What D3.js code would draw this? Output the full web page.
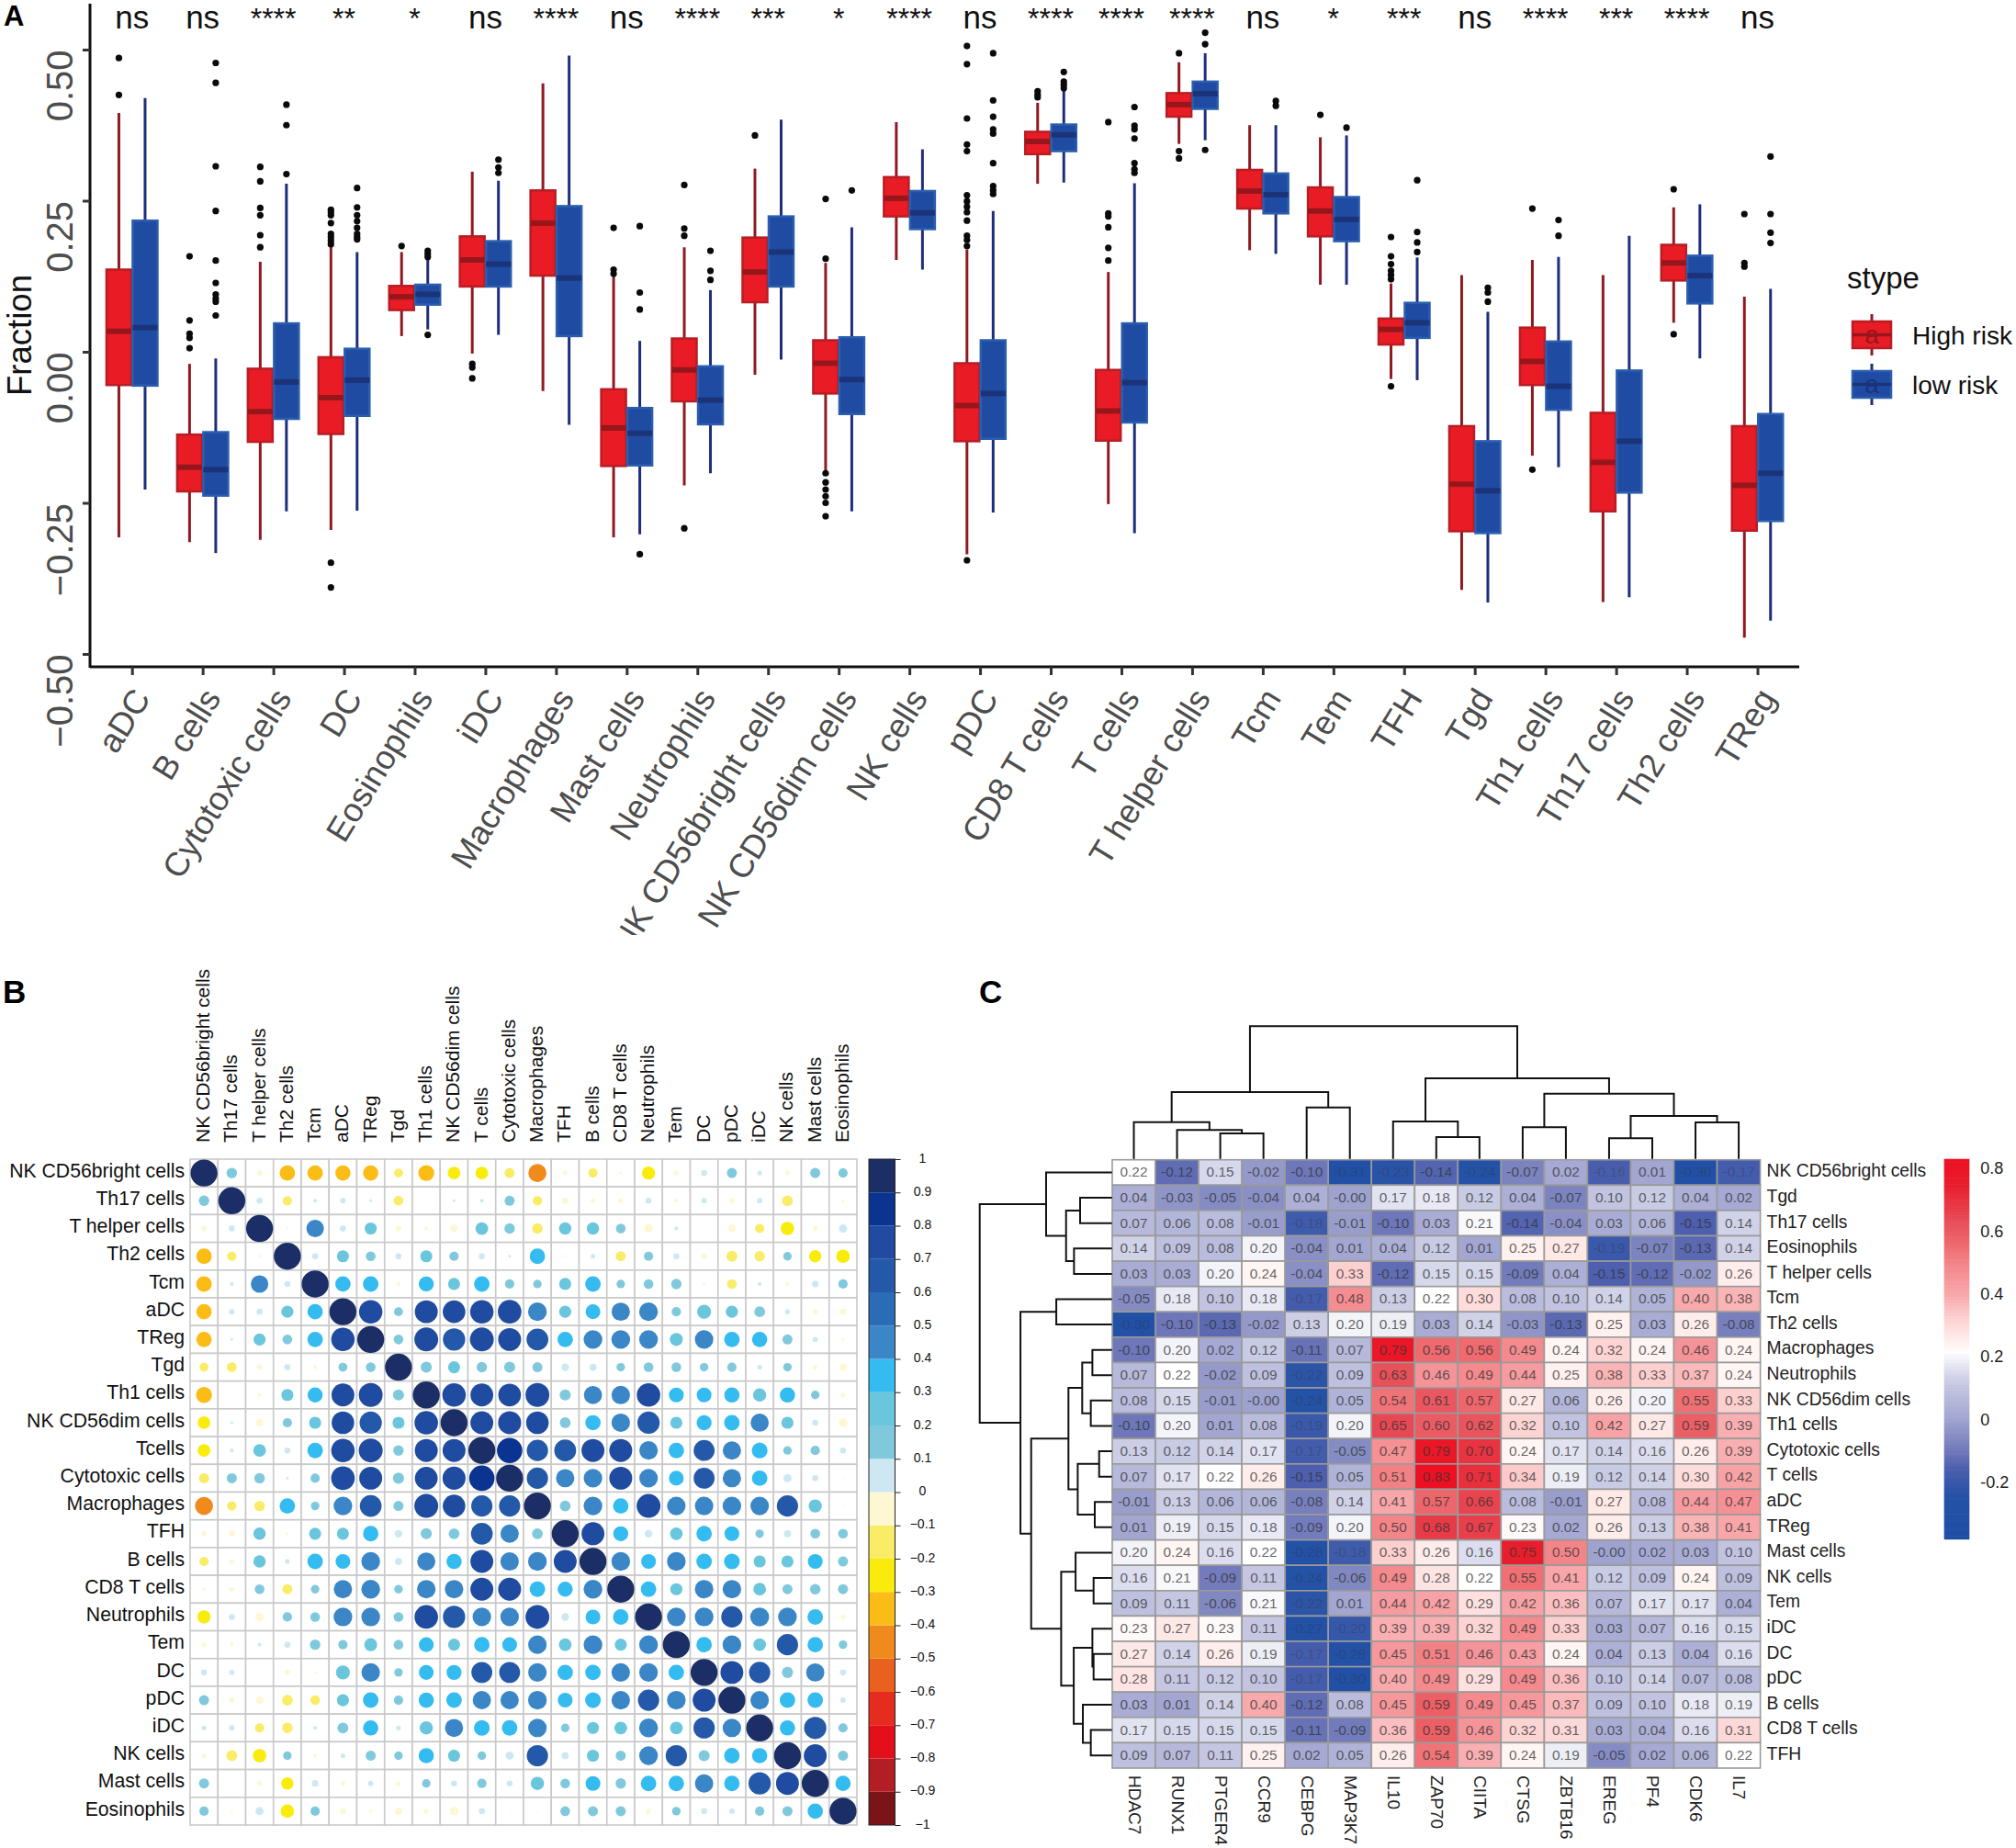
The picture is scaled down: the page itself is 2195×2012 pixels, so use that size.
<!DOCTYPE html>
<html>
<head>
<meta charset="utf-8">
<script src="https://cdn.jsdelivr.net/npm/d3@7"></script>
<style>
  html, body { margin: 0; padding: 0; background: #fff; }
  text { font-family: "Liberation Sans", Arial, sans-serif; }
</style>
</head>
<body>
<div id="chart"></div>
<script>
// panel A: immune cell fractions by risk group
const boxCats = ['aDC','B cells','Cytotoxic cells','DC','Eosinophils','iDC','Macrophages','Mast cells','Neutrophils','NK CD56bright cells','NK CD56dim cells','NK cells','pDC','CD8 T cells','T cells','T helper cells','Tcm','Tem','TFH','Tgd','Th1 cells','Th17 cells','Th2 cells','TReg'];
const sigLabels = ['ns','ns','****','**','*','ns','****','ns','****','***','*','****','ns','****','****','****','ns','*','***','ns','****','***','****','ns'];
// low whisker, q1, median, q3, high whisker
const boxHigh = [
  [-.307,-.055,.034,.136,.395],[-.315,-.231,-.191,-.137,-.020],[-.311,-.149,-.099,-.028,.149],[-.295,-.136,-.076,-.009,.174],
  [.026,.069,.091,.109,.165],[-.003,.108,.152,.191,.298],[-.065,.126,.213,.267,.444],[-.307,-.189,-.126,-.062,.131],
  [-.221,-.082,-.030,.022,.173],[-.038,.082,.132,.189,.303],[-.200,-.069,-.019,.019,.147],[.152,.224,.254,.289,.380],
  [-.335,-.148,-.089,-.019,.169],[.278,.327,.348,.364,.412],[-.252,-.147,-.098,-.030,.132],[.344,.389,.409,.428,.479],
  [.168,.237,.266,.301,.375],[.111,.191,.233,.272,.355],[-.045,.012,.037,.055,.113],[-.394,-.297,-.219,-.123,.127],
  [-.172,-.055,-.016,.040,.152],[-.414,-.264,-.183,-.101,.127],[.048,.118,.147,.177,.239],[-.473,-.296,-.221,-.123,.091]
];
const boxLow = [
  [-.228,-.056,.040,.217,.420],[-.333,-.238,-.195,-.133,-.011],[-.264,-.111,-.050,.047,.278],[-.263,-.106,-.047,.005,.165],
  [.037,.078,.095,.111,.152],[.028,.108,.145,.183,.283],[-.121,.026,.122,.241,.490],[-.302,-.188,-.135,-.093,.018],
  [-.201,-.120,-.080,-.024,.102],[-.013,.108,.165,.224,.384],[-.264,-.103,-.046,.024,.206],[.136,.203,.230,.266,.335],
  [-.266,-.144,-.069,.019,.233],[.280,.332,.359,.376,.432],[-.300,-.117,-.051,.047,.279],[.350,.402,.427,.447,.494],
  [.162,.229,.260,.295,.375],[.111,.183,.219,.256,.358],[-.047,.023,.048,.081,.156],[-.415,-.300,-.230,-.148,.066],
  [-.191,-.096,-.057,.017,.157],[-.406,-.233,-.148,-.031,.192],[-.011,.080,.126,.159,.244],[-.445,-.280,-.201,-.103,.104]
];
const outHigh = [
  [.486,.425],[.158,.052,.030,.023,.006],[.306,.282,.238,.226,.193,.173],[-.349,-.390,.235,.231,.226,.213,.195,.190,.184,.178],
  [.175],[-.020,-.026,-.044],[],[.205,.136,.129],
  [.276,.204,.192,-.292],[.358],[.253,.154,-.201,-.216,-.228,-.239,-.250,-.272],[],
  [-.345,.506,.476,.386,.343,.332,.259,.249,.240,.231,.217,.192,.185,.175],[.431,.425,.421],[.380,.229,.224,.206,.172,.151],[.494,.332,.320],
  [],[.392],[.190,.158,.145,.134,.127,.120,-.057],[],
  [.237,-.195],[],[.269,.029],[.228,.147,.141]
];
const outLow = [
  [],[.478,.445,.307,.233,.151,.114,.095,.088,.083,.060],[.409,.375,.294],[.271,.239,.226,.216,.205,.195,.190,.186],
  [.167,.162,.157,.028],[.318,.305,.296],[],[.208,.098,.070,-.335],
  [.167,.134,.119],[],[.267],[],
  [.494,.416,.389,.368,.361,.312,.274,.267,.261],[.463,.447,.442,.436],[.405,.374,.368,.353,.312,.302,.296],[.528,.509,.334],
  [.415,.407],[.371],[.284,.198,.181,.165],[.106,.098,.083],
  [.218,.192],[],[],[.323,.228,.197,.180]
];
const riskGroups = ['High risk','low risk'];

// panel B: correlation between cell types (upper triangle, row by row)
const corrCols = ['NK CD56bright cells','Th17 cells','T helper cells','Th2 cells','Tcm','aDC','TReg','Tgd','Th1 cells','NK CD56dim cells','T cells','Cytotoxic cells','Macrophages','TFH','B cells','CD8 T cells','Neutrophils','Tem','DC','pDC','iDC','NK cells','Mast cells','Eosinophils'];
const corrRows = ['NK CD56bright cells','Th17 cells','T helper cells','Th2 cells','Tcm','aDC','TReg','Tgd','Th1 cells','NK CD56dim cells','Tcells','Cytotoxic cells','Macrophages','TFH','B cells','CD8 T cells','Neutrophils','Tem','DC','pDC','iDC','NK cells','Mast cells','Eosinophils'];
const corrUpper = [
  [.15,-.04,-.33,-.33,-.32,-.32,-.11,-.35,-.22,-.22,-.14,-.45,-.03,-.12,-.01,-.24,-.03,.05,.14,.03,-.03,.14,.12],
  [.05,-.12,.02,.04,.01,-.13,-.002,.01,.02,.14,-.12,-.05,-.03,-.03,.05,-.02,.04,-.04,.04,-.16,-.003,-.01],
  [-.01,.42,.05,.2,-.04,-.02,-.08,.22,.15,-.15,.21,.21,.13,-.1,.02,-.002,-.08,-.12,-.25,-.04,.09],
  [.05,.2,.13,.05,.2,.12,.05,.01,.33,-.01,.03,-.14,.12,.05,-.04,-.16,-.15,.1,-.21,-.25],
  [.32,.33,-.02,.31,.2,.33,.12,.1,.2,.33,.1,.13,.15,-.01,-.13,.02,-.02,.06,.12],
  [.75,.11,.72,.7,.75,.76,.48,.2,.3,.46,.48,.12,.27,.2,.16,.03,-.03,-.05],
  [.13,.78,.68,.78,.72,.65,.33,.48,.48,.48,.23,.47,.33,.32,.14,.04,-.01],
  [.17,.2,.15,.17,.14,.08,.07,.1,.13,.13,.1,.12,.03,.1,-.03,-.07],
  [.76,.72,.71,.78,.17,.45,.47,.76,.3,.3,.32,.24,.32,.1,-.03],
  [.72,.73,.7,.16,.32,.47,.68,.2,.31,.33,.45,.2,.05,-.1],
  [.88,.62,.65,.72,.72,.47,.33,.6,.46,.34,.1,.12,.05],
  [.62,.46,.47,.72,.47,.3,.6,.46,.33,.09,.05,-.005],
  [.16,.48,.33,.78,.47,.47,.48,.47,.62,.24,-.005],
  [.72,.31,.08,.22,.33,.3,.1,.07,.13,.13],
  [.48,.3,.48,.33,.34,.2,.2,.3,.14],
  [.33,.2,.47,.47,.22,.14,.15,.14],
  [.48,.48,.62,.49,.48,.33,-.03],
  [.33,.48,.22,.62,.33,.1],
  [.72,.62,.17,.46,.05],
  [.47,.33,.33,.04],
  [.32,.68,.12],
  [.72,.14],
  [.32]
];
const corrBins = ['#7b1418','#b31e24','#e3101a','#e62b1f','#e9601f','#f08a1c','#fbbc15','#f9ec0d','#f9ec66','#fdf8d2','#cde8f2','#80c9dd','#6ac6dd','#34bbef','#3a86c6','#2a6cb5','#2359a8','#1f4ca0','#0a3490','#1b2f66'];
const corrTicks = [1,.9,.8,.7,.6,.5,.4,.3,.2,.1,0,-.1,-.2,-.3,-.4,-.5,-.6,-.7,-.8,-.9,-1];

// panel C: gene vs cell type heatmap
const heatGenes = ['HDAC7','RUNX1','PTGER4','CCR9','CEBPG','MAP3K7','IL10','ZAP70','CIITA','CTSG','ZBTB16','EREG','PF4','CDK6','IL7'];
const heatCells = ['NK CD56bright cells','Tgd','Th17 cells','Eosinophils','T helper cells','Tcm','Th2 cells','Macrophages','Neutrophils','NK CD56dim cells','Th1 cells','Cytotoxic cells','T cells','aDC','TReg','Mast cells','NK cells','Tem','iDC','DC','pDC','B cells','CD8 T cells','TFH'];
const heatValues = [
  ['0.22','-0.12','0.15','-0.02','-0.10','-0.31','-0.23','-0.14','-0.24','-0.07','0.02','-0.16','0.01','-0.30','-0.17'],
  ['0.04','-0.03','-0.05','-0.04','0.04','-0.00','0.17','0.18','0.12','0.04','-0.07','0.10','0.12','0.04','0.02'],
  ['0.07','0.06','0.08','-0.01','-0.18','-0.01','-0.10','0.03','0.21','-0.14','-0.04','0.03','0.06','-0.15','0.14'],
  ['0.14','0.09','0.08','0.20','-0.04','0.01','0.04','0.12','0.01','0.25','0.27','-0.19','-0.07','-0.13','0.14'],
  ['0.03','0.03','0.20','0.24','-0.04','0.33','-0.12','0.15','0.15','-0.09','0.04','-0.15','-0.12','-0.02','0.26'],
  ['-0.05','0.18','0.10','0.18','-0.17','0.48','0.13','0.22','0.30','0.08','0.10','0.14','0.05','0.40','0.38'],
  ['-0.30','-0.10','-0.13','-0.02','0.13','0.20','0.19','0.03','0.14','-0.03','-0.13','0.25','0.03','0.26','-0.08'],
  ['-0.10','0.20','0.02','0.12','-0.11','0.07','0.79','0.56','0.56','0.49','0.24','0.32','0.24','0.46','0.24'],
  ['0.07','0.22','-0.02','0.09','-0.22','0.09','0.63','0.46','0.49','0.44','0.25','0.38','0.33','0.37','0.24'],
  ['0.08','0.15','-0.01','-0.00','-0.24','0.05','0.54','0.61','0.57','0.27','0.06','0.26','0.20','0.55','0.33'],
  ['-0.10','0.20','0.01','0.08','-0.19','0.20','0.65','0.60','0.62','0.32','0.10','0.42','0.27','0.59','0.39'],
  ['0.13','0.12','0.14','0.17','-0.17','-0.05','0.47','0.79','0.70','0.24','0.17','0.14','0.16','0.26','0.39'],
  ['0.07','0.17','0.22','0.26','-0.15','0.05','0.51','0.83','0.71','0.34','0.19','0.12','0.14','0.30','0.42'],
  ['-0.01','0.13','0.06','0.06','-0.08','0.14','0.41','0.57','0.66','0.08','-0.01','0.27','0.08','0.44','0.47'],
  ['0.01','0.19','0.15','0.18','-0.09','0.20','0.50','0.68','0.67','0.23','0.02','0.26','0.13','0.38','0.41'],
  ['0.20','0.24','0.16','0.22','-0.28','-0.18','0.33','0.26','0.16','0.75','0.50','-0.00','0.02','0.03','0.10'],
  ['0.16','0.21','-0.09','0.11','-0.24','-0.06','0.49','0.28','0.22','0.55','0.41','0.12','0.09','0.24','0.09'],
  ['0.09','0.11','-0.06','0.21','-0.22','0.01','0.44','0.42','0.29','0.42','0.36','0.07','0.17','0.17','0.04'],
  ['0.23','0.27','0.23','0.11','-0.27','-0.20','0.39','0.39','0.32','0.49','0.33','0.03','0.07','0.16','0.15'],
  ['0.27','0.14','0.26','0.19','-0.17','-0.28','0.45','0.51','0.46','0.43','0.24','0.04','0.13','0.04','0.16'],
  ['0.28','0.11','0.12','0.10','-0.17','-0.30','0.40','0.49','0.29','0.49','0.36','0.10','0.14','0.07','0.08'],
  ['0.03','0.01','0.14','0.40','-0.12','0.08','0.45','0.59','0.49','0.45','0.37','0.09','0.10','0.18','0.19'],
  ['0.17','0.15','0.15','0.15','-0.11','-0.09','0.36','0.59','0.46','0.32','0.31','0.03','0.04','0.16','0.31'],
  ['0.09','0.07','0.11','0.25','0.02','0.05','0.26','0.54','0.39','0.24','0.19','-0.05','0.02','0.06','0.22']
];
const heatStops = [-.38,-.24,-.15,-.10,-.05,.01,.08,.14,.22,.24,.33,.40,.49,.56,.63,.75,.83];
const heatColors = ['#1f4ea6','#2352a6','#4d5fae','#6d77b9','#858cc3','#a2a6d1','#b9bcdc','#d0d2e8','#ffffff','#fff5f3','#fdd0d0','#f8a9ac','#f48a8e','#ee6a6e','#e8505a','#e91e2d','#ec1022'];
const heatTicks = [.8,.6,.4,.2,0,-.2];
// dendrograms: [merge height, left, right], leaves are indexes
const colTree = [1,[.503,[.277,0,[.217,1,[.192,2,3]]],[.388,4,5]],[.607,[.282,6,[.164,7,8]],[.492,[.238,9,10],[.323,[.155,11,12],[.275,13,14]]]]];
const rowTree = [1,[.498,0,[.347,[.241,1,2],[.287,3,4]]],[.692,[.421,5,6],[.611,[.329,[.225,[.148,7,8],[.160,9,10]],[.259,[.097,11,12],[.130,13,14]]],[.384,[.275,15,[.139,16,17]],[.289,[.148,18,[.139,19,20]],[.220,21,[.160,22,23]]]]]]];

const svg = d3.select('#chart').append('svg').attr('width', 2195).attr('height', 2012).style('display', 'block');

svg.selectAll('.panel')
  .data([['A', 4, 28, 31], ['B', 3, 1092, 35], ['C', 1066, 1092, 35]])
  .enter().append('text')
  .attr('x', d => d[1]).attr('y', d => d[2])
  .attr('font-size', d => d[3]).attr('font-weight', 'bold')
  .text(d => d[0]);

// ---------- panel A ----------
const xA = d3.scalePoint().domain(boxCats).range([143.7, 1913.5]);
const yA = d3.scaleLinear().domain([-.5, .5]).range([712, 54]);
const dodge = d3.scaleBand().domain(riskGroups).range([-28.5, 28.5]);
const groupStyle = {
  'High risk': { fill: '#e91c25', stroke: '#b81d24', whisker: '#8f1a20', median: '#97161b' },
  'low risk': { fill: '#1f4ba2', stroke: '#2b5fae', whisker: '#1d2f7c', median: '#1b3479' }
};

const gA = svg.append('g');
const yAxisA = gA.append('g').attr('transform', 'translate(98,0)')
  .call(d3.axisLeft(yA).tickValues([-.5, -.25, 0, .25, .5]).tickFormat(d3.format('.2f')).tickSize(8));
yAxisA.select('.domain').attr('d', 'M0,4V727').attr('stroke', '#111').attr('stroke-width', 3);
yAxisA.selectAll('line').attr('stroke', '#333').attr('stroke-width', 3);
yAxisA.selectAll('text')
  .attr('x', 0).attr('dy', 0).attr('text-anchor', 'end')
  .attr('transform', 'translate(-19,0) rotate(-90)')
  .attr('font-size', 40).attr('font-family', '"Liberation Sans"').attr('fill', '#4d4d4d');

svg.append('clipPath').attr('id', 'xclip').append('rect').attr('x', 0).attr('y', 700).attr('width', 2195).attr('height', 318);
const xAxisA = gA.append('g').attr('transform', 'translate(0,726)')
  .call(d3.axisBottom(xA).tickSize(9).tickSizeOuter(0));
xAxisA.select('.domain').attr('d', 'M98,0H1959').attr('stroke', '#111').attr('stroke-width', 3);
xAxisA.selectAll('line').attr('stroke', '#333').attr('stroke-width', 3);
xAxisA.selectAll('text').remove();
gA.append('g').attr('clip-path', 'url(#xclip)')
  .selectAll('text').data(boxCats).enter().append('text')
  .attr('text-anchor', 'end')
  .attr('transform', d => `translate(${xA(d) + 21},760) rotate(-58.5)`)
  .attr('font-size', 36.5).attr('fill', '#4d4d4d')
  .text(d => d);

gA.append('text').attr('transform', 'translate(34,365) rotate(-90)')
  .attr('text-anchor', 'middle').attr('font-size', 36.5).attr('fill', '#111').text('Fraction');

gA.selectAll('.sig').data(sigLabels).enter().append('text')
  .attr('class', 'sig')
  .attr('x', (d, i) => xA(boxCats[i])).attr('y', 31)
  .attr('text-anchor', 'middle').attr('font-size', d => d === 'ns' ? 35 : 32).attr('fill', '#111')
  .text(d => d);

function drawBoxes(group, boxes, outliers) {
  const st = groupStyle[group];
  const cx = i => xA(boxCats[i]) + dodge(group) + dodge.bandwidth() / 2;
  const g = gA.append('g');
  g.selectAll('.whisker').data(boxes).enter().append('line')
    .attr('x1', (d, i) => cx(i)).attr('x2', (d, i) => cx(i))
    .attr('y1', d => yA(d[0])).attr('y2', d => yA(d[4]))
    .attr('stroke', st.whisker).attr('stroke-width', 3);
  g.selectAll('.box').data(boxes).enter().append('rect')
    .attr('x', (d, i) => cx(i) - 13.5).attr('width', 27)
    .attr('y', d => yA(d[3])).attr('height', d => yA(d[1]) - yA(d[3]))
    .attr('fill', st.fill).attr('stroke', st.stroke).attr('stroke-width', 2.5);
  g.selectAll('.median').data(boxes).enter().append('line')
    .attr('x1', (d, i) => cx(i) - 13.5).attr('x2', (d, i) => cx(i) + 13.5)
    .attr('y1', d => yA(d[2])).attr('y2', d => yA(d[2]))
    .attr('stroke', st.median).attr('stroke-width', 6);
  outliers.forEach((vals, i) => {
    g.append('g').selectAll('circle').data(vals).enter().append('circle')
      .attr('cx', cx(i)).attr('cy', d => yA(d)).attr('r', 3.6).attr('fill', '#0a0a0a');
  });
}
drawBoxes('High risk', boxHigh, outHigh);
drawBoxes('low risk', boxLow, outLow);

// legend
const legendA = svg.append('g');
legendA.append('text').attr('x', 2011).attr('y', 314).attr('font-size', 33).attr('fill', '#111').text('stype');
riskGroups.forEach((group, i) => {
  const st = groupStyle[group];
  const g = legendA.append('g').attr('transform', `translate(2017,${350 + i * 54})`);
  g.append('line').attr('x1', 21).attr('x2', 21).attr('y1', -8).attr('y2', 37).attr('stroke', st.whisker).attr('stroke-width', 3);
  g.append('rect').attr('width', 42).attr('height', 29).attr('fill', st.fill).attr('stroke', st.stroke).attr('stroke-width', 2.5);
  g.append('line').attr('x1', 0).attr('x2', 42).attr('y1', 14.5).attr('y2', 14.5).attr('stroke', st.median).attr('stroke-width', 3.5);
  g.append('text').attr('x', 21).attr('y', 24).attr('text-anchor', 'middle').attr('font-size', 28).attr('fill', st.median).text('a');
  g.append('text').attr('x', 65).attr('y', 25).attr('font-size', 28).attr('fill', '#111').text(group);
});

// ---------- panel B ----------
const xB = d3.scaleBand().domain(corrCols).range([207, 933]);
const yB = d3.scaleBand().domain(corrRows).range([1262, 1987]);
const corrColor = d3.scaleQuantize().domain([-1, 1]).range(corrBins);
const corrMatrix = corrRows.map(() => new Array(24).fill(1));
corrUpper.forEach((row, i) => row.forEach((v, k) => {
  corrMatrix[i][i + k + 1] = v;
  corrMatrix[i + k + 1][i] = v;
}));
const corrCells = [];
corrMatrix.forEach((row, i) => row.forEach((v, j) => corrCells.push({ i, j, v })));

const gB = svg.append('g');
gB.selectAll('.cell').data(corrCells).enter().append('rect')
  .attr('x', d => xB(corrCols[d.j])).attr('y', d => yB(corrRows[d.i]))
  .attr('width', xB.bandwidth()).attr('height', yB.bandwidth())
  .attr('fill', '#fff').attr('stroke', '#c9c9c9').attr('stroke-width', 1.6);
const radius = d3.scaleSqrt().domain([0, 1]).range([0, 14.7]);
gB.selectAll('.dot').data(corrCells).enter().append('circle')
  .attr('cx', d => xB(corrCols[d.j]) + xB.bandwidth() / 2)
  .attr('cy', d => yB(corrRows[d.i]) + yB.bandwidth() / 2)
  .attr('r', d => radius(Math.abs(d.v)))
  .attr('fill', d => corrColor(d.v));

const yAxisB = gB.append('g').attr('transform', 'translate(207,0)').call(d3.axisLeft(yB).tickSize(0).tickPadding(6));
yAxisB.select('.domain').remove();
yAxisB.selectAll('text').attr('dy', '.22em').attr('font-size', 21.2).attr('font-family', '"Liberation Sans"').attr('fill', '#111');
const xAxisB = gB.append('g').attr('transform', 'translate(0,1262)').call(d3.axisTop(xB).tickSize(0));
xAxisB.select('.domain').remove();
xAxisB.selectAll('text')
  .attr('y', 0).attr('dy', 0).attr('text-anchor', 'start')
  .attr('transform', 'translate(6,-18) rotate(-90)')
  .attr('font-size', 21).attr('font-family', '"Liberation Sans"').attr('fill', '#111');

// discrete colour bar
const barB = d3.scaleLinear().domain([1, -1]).range([1262, 1987]);
gB.selectAll('.band').data(corrBins).enter().append('rect')
  .attr('x', 946).attr('width', 28.5)
  .attr('y', (d, i) => barB(-1 + (i + 1) * .1)).attr('height', barB(0) - barB(.1))
  .attr('fill', d => d);
gB.append('rect').attr('x', 946).attr('y', 1262).attr('width', 28.5).attr('height', 725).attr('fill', 'none').attr('stroke', '#222').attr('stroke-width', 1);
const axisBarB = gB.append('g').attr('transform', 'translate(974.5,0)')
  .call(d3.axisRight(barB).tickValues(corrTicks).tickSize(6).tickFormat(d => d3.format('')(d)));
axisBarB.select('.domain').remove();
axisBarB.selectAll('line').attr('stroke', '#222');
axisBarB.selectAll('text').attr('x', 30).attr('dy', '.22em').attr('text-anchor', 'middle').attr('font-size', 14).attr('font-family', '"Liberation Sans"').attr('fill', '#111');

// ---------- panel C ----------
const xC = d3.scaleBand().domain(heatGenes).range([1211, 1916.6]);
const yC = d3.scaleBand().domain(heatCells).range([1262.7, 1925]);
const heatColor = d3.scaleLinear().domain(heatStops).range(heatColors).clamp(true);
const heatData = [];
heatValues.forEach((row, i) => row.forEach((v, j) => heatData.push({ i, j, v })));

const gC = svg.append('g');
gC.selectAll('.hc').data(heatData).enter().append('rect')
  .attr('x', d => xC(heatGenes[d.j])).attr('y', d => yC(heatCells[d.i]))
  .attr('width', xC.bandwidth()).attr('height', yC.bandwidth())
  .attr('fill', d => heatColor(+d.v)).attr('stroke', '#9a9a9a').attr('stroke-width', 1.6);
gC.selectAll('.hl').data(heatData).enter().append('text')
  .attr('x', d => xC(heatGenes[d.j]) + xC.bandwidth() / 2)
  .attr('y', d => yC(heatCells[d.i]) + yC.bandwidth() / 2 + 5)
  .attr('text-anchor', 'middle').attr('font-size', 15.4)
  .attr('fill', '#333').attr('fill-opacity', d => +d.v < -.15 ? .35 : .75)
  .text(d => d.v);

const yAxisC = gC.append('g').attr('transform', 'translate(1916.6,0)').call(d3.axisRight(yC).tickSize(0).tickPadding(7));
yAxisC.select('.domain').remove();
yAxisC.selectAll('text').attr('dy', '.25em').attr('font-size', 19.3).attr('font-family', '"Liberation Sans"').attr('fill', '#222');
const xAxisC = gC.append('g').attr('transform', 'translate(0,1925)').call(d3.axisBottom(xC).tickSize(0));
xAxisC.select('.domain').remove();
xAxisC.selectAll('text')
  .attr('y', 0).attr('dy', 0).attr('text-anchor', 'start')
  .attr('transform', 'translate(-6,8) rotate(90)')
  .attr('font-size', 19).attr('font-family', '"Liberation Sans"').attr('fill', '#222');

// dendrograms
function drawTree(tree, leafPos, heightPos, horizontal) {
  const path = d3.path();
  const pt = (p, h) => horizontal ? [heightPos(h), p] : [p, heightPos(h)];
  function walk(node) {
    if (typeof node === 'number') return { p: leafPos(node), h: 0 };
    const a = walk(node[1]), b = walk(node[2]);
    path.moveTo(...pt(a.p, a.h));
    path.lineTo(...pt(a.p, node[0]));
    path.lineTo(...pt(b.p, node[0]));
    path.lineTo(...pt(b.p, b.h));
    return { p: (a.p + b.p) / 2, h: node[0] };
  }
  walk(tree);
  gC.append('path').attr('d', path.toString()).attr('fill', 'none').attr('stroke', '#111').attr('stroke-width', 2);
}
const colH = d3.scaleLinear().domain([0, 1]).range([1261.7, 1117.3]);
const rowH = d3.scaleLinear().domain([0, 1]).range([1210.7, 1066.7]);
drawTree(colTree, i => xC(heatGenes[i]) + xC.bandwidth() / 2, colH, false);
drawTree(rowTree, i => yC(heatCells[i]) + yC.bandwidth() / 2, rowH, true);

// continuous colour bar
const barC = d3.scaleLinear().domain([.8, -.2]).range([1272, 1614]);
const barSteps = d3.range(.83, -.38, -.01);
gC.selectAll('.cb').data(barSteps).enter().append('rect')
  .attr('x', 2116.7).attr('width', 27.6)
  .attr('y', d => barC(d)).attr('height', barC(0) - barC(.01) + .6)
  .attr('fill', d => heatColor(d));
const axisBarC = gC.append('g').attr('transform', 'translate(2144.3,0)')
  .call(d3.axisRight(barC).tickValues(heatTicks).tickSize(0).tickPadding(12).tickFormat(d => d3.format('')(d).replace('−', '-')));
axisBarC.select('.domain').remove();
axisBarC.selectAll('text').attr('font-size', 18).attr('font-family', '"Liberation Sans"').attr('fill', '#222');
</script>
</body>
</html>
